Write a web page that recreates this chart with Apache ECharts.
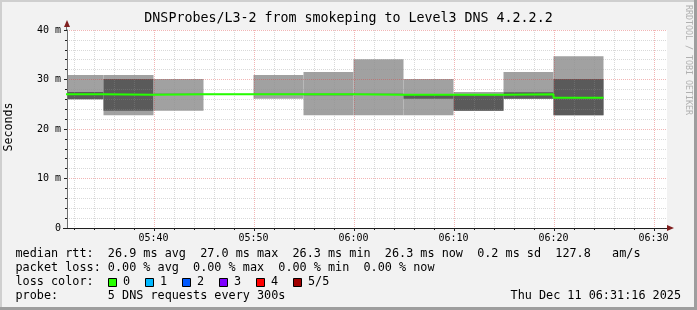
<!DOCTYPE html>
<html>
<head>
<meta charset="utf-8">
<style>
  html, body { margin: 0; padding: 0; background: #f2f2f2; }
  #chart { width: 697px; height: 310px; }
</style>
<script src="https://cdn.jsdelivr.net/npm/echarts@6/dist/echarts.min.js"></script>
</head>
<body>
<div id="chart"></div>
<script>
// ---- Data (time in minutes after 05:00; values in milliseconds) ----
const viewStart = 31.35;   // 05:31:21
const viewEnd = 91.35;     // 06:31:21
const slotEnds = [35, 40, 45, 50, 55, 60, 65, 70, 75, 80, 85];   // each slot covers 5 minutes ending here
const slotLen = 5;
const pingMin  = [26.0, 22.8, 23.7, 26.9, 26.1, 22.8, 22.8, 22.8, 23.7, 26.1, 22.8];
const pingLoQ  = [26.0, 23.7, 26.9, 27.0, 26.9, 26.8, 26.9, 26.1, 23.7, 26.1, 22.8];
const pingHiQ  = [27.5, 30.1, 27.1, 27.0, 27.1, 27.1, 27.1, 26.9, 27.0, 27.4, 30.1];
const pingMax  = [30.9, 30.9, 30.1, 27.1, 30.9, 31.5, 34.1, 30.1, 27.5, 31.5, 34.7];
const medianRtt = [27.0, 26.9, 27.0, 27.0, 27.0, 27.0, 26.9, 26.9, 26.9, 27.0, 26.3];

const xTickValues = [40, 50, 60, 70, 80, 90];
const xTickLabels = ['05:40', '05:50', '06:00', '06:10', '06:20', '06:30'];
const xGridMinutes = [32, 34, 36, 38, 40, 42, 44, 46, 48, 50, 52, 54, 56, 58, 60, 62, 64, 66, 68, 70,
                      72, 74, 76, 78, 80, 82, 84, 86, 88, 90];
const yTickLabels = ['0', '10 m', '20 m', '30 m', '40 m'];

const titleText = 'DNSProbes/L3-2 from smokeping to Level3 DNS 4.2.2.2';
const legendLines = [
  'median rtt:  26.9 ms avg  27.0 ms max  26.3 ms min  26.3 ms now  0.2 ms sd  127.8   am/s',
  'packet loss: 0.00 % avg  0.00 % max  0.00 % min  0.00 % now',
  'loss color:',
  'probe:       5 DNS requests every 300s'
];
const lossLabels = ['0', '1', '2', '3', '4', '5/5'];
const lossColors = ['#26ff00', '#00b8ff', '#0059ff', '#7e00ff', '#ff0000', '#a10000'];
const dateText = 'Thu Dec 11 06:31:16 2025';
const watermark = 'RRDTOOL / TOBI OETIKER';

// ---- Build chart ----
const FONT = '"DejaVu Sans Mono", monospace';
const MAJOR_GRID = 'rgba(222,60,60,0.38)';
const MINOR_GRID = 'rgba(143,143,143,0.34)';
const smokeData = slotEnds.map((e, i) => [e - slotLen, e, pingMin[i], pingLoQ[i], pingHiQ[i], pingMax[i]]);
const medianData = [[slotEnds[0] - slotLen, medianRtt[0]]].concat(slotEnds.map((e, i) => [e, medianRtt[i]]));

const chart = echarts.init(document.getElementById('chart'), null, { renderer: 'canvas' });

const graphics = [];
// frame shading
graphics.push({ type: 'rect', shape: { x: 0, y: 0, width: 697, height: 2 }, style: { fill: '#cfcfcf' }, z: 100 });
graphics.push({ type: 'rect', shape: { x: 0, y: 0, width: 2, height: 310 }, style: { fill: '#cfcfcf' }, z: 100 });
graphics.push({ type: 'rect', shape: { x: 0, y: 307, width: 697, height: 3 }, style: { fill: '#9e9e9e' }, z: 100 });
graphics.push({ type: 'rect', shape: { x: 694, y: 0, width: 3, height: 310 }, style: { fill: '#9e9e9e' }, z: 100 });
// axis arrows
graphics.push({ type: 'polygon', shape: { points: [[64, 27], [70, 27], [67, 20]] }, style: { fill: '#801f1f' }, z: 100 });
graphics.push({ type: 'polygon', shape: { points: [[667, 225], [667, 231], [674, 228]] }, style: { fill: '#801f1f' }, z: 100 });
graphics.push({ type: 'line', shape: { x1: 66.5, y1: 27, x2: 66.5, y2: 30 }, style: { stroke: '#707070', lineWidth: 1 }, z: 100 });
graphics.push({ type: 'line', shape: { x1: 63, y1: 228.5, x2: 67, y2: 228.5 }, style: { stroke: '#1f1f1f', lineWidth: 1 }, z: 100 });
// title
graphics.push({ type: 'text', x: 348.5, y: 19, style: { text: titleText, font: '13.3px ' + FONT, fill: '#000', textAlign: 'center', textVerticalAlign: 'middle' }, z: 100 });
// y axis name
graphics.push({ type: 'text', x: 9, y: 127, rotation: Math.PI / 2, style: { text: 'Seconds', font: '11.6px ' + FONT, fill: '#000', textAlign: 'center', textVerticalAlign: 'middle' }, z: 100 });
// watermark
graphics.push({ type: 'text', x: 688, y: 60, rotation: -Math.PI / 2, style: { text: watermark, font: '8.3px ' + FONT, fill: '#b0b0b0', textAlign: 'center', textVerticalAlign: 'middle' }, z: 100 });
// legend lines
const legendY = [254.3, 268.3, 282.3, 296.2];
legendLines.forEach((t, i) => {
  graphics.push({ type: 'text', x: 15.5, y: legendY[i], style: { text: t, font: '11.8px ' + FONT, fill: '#000', textAlign: 'left', textVerticalAlign: 'middle' }, z: 100 });
});
lossLabels.forEach((t, i) => {
  const bx = 108.5 + 37 * i;
  graphics.push({ type: 'rect', shape: { x: bx, y: 278.5, width: 8, height: 8 }, style: { fill: lossColors[i], stroke: '#000', lineWidth: 1 }, z: 100 });
  graphics.push({ type: 'text', x: bx + 14.5, y: 282.3, style: { text: t, font: '11.8px ' + FONT, fill: '#000', textAlign: 'left', textVerticalAlign: 'middle' }, z: 100 });
});
graphics.push({ type: 'text', x: 681, y: 296.2, style: { text: dateText, font: '11.8px ' + FONT, fill: '#000', textAlign: 'right', textVerticalAlign: 'middle' }, z: 100 });

const option = {
  backgroundColor: '#f2f2f2',
  animation: false,
  grid: { left: 67, top: 30, width: 600, height: 198, show: true, backgroundColor: '#ffffff', borderWidth: 0 },
  xAxis: {
    type: 'value', min: viewStart, max: viewEnd, z: 6,
    axisLine: { show: true, lineStyle: { color: '#1f1f1f', width: 1 } },
    axisTick: { show: false },
    splitLine: { show: false },
    axisLabel: {
      customValues: xTickValues,
      margin: 5,
      fontFamily: 'DejaVu Sans Mono', fontSize: 10, color: '#000',
      formatter: (v) => { const i = xTickValues.indexOf(Math.round(v)); return i >= 0 ? xTickLabels[i] : ''; }
    }
  },
  yAxis: {
    type: 'value', min: 0, max: 40, interval: 10, z: 3,
    axisLine: { show: true, lineStyle: { color: '#707070', width: 1 } },
    axisTick: { show: true, length: 3, lineStyle: { color: '#1f1f1f' } },
    minorTick: { show: true, splitNumber: 5, length: 2, lineStyle: { color: '#1f1f1f' } },
    axisLabel: {
      margin: 6, fontFamily: 'DejaVu Sans Mono', fontSize: 10, color: '#000',
      formatter: (v) => yTickLabels[Math.round(v / 10)]
    },
    splitLine: { show: true, lineStyle: { color: MAJOR_GRID, width: 1, type: [1, 1] } },
    minorSplitLine: { show: true, lineStyle: { color: MINOR_GRID, width: 1, type: [1, 1] } }
  },
  series: [
    {
      name: 'smoke', type: 'custom', z: 2,
      data: smokeData,
      renderItem: (params, api) => {
        const cs = params.coordSys;
        const x0 = Math.max(api.coord([api.value(0), 0])[0], cs.x);
        const x1 = Math.min(api.coord([api.value(1), 0])[0], cs.x + cs.width);
        const yMin = api.coord([0, api.value(2)])[1];
        const yLo = api.coord([0, api.value(3)])[1];
        const yHi = api.coord([0, api.value(4)])[1];
        const yMax = api.coord([0, api.value(5)])[1];
        return {
          type: 'group',
          children: [
            { type: 'rect', shape: { x: x0, y: yMax, width: x1 - x0, height: yMin - yMax }, style: { fill: '#a1a1a1' } },
            { type: 'rect', shape: { x: x0, y: yHi, width: x1 - x0, height: Math.max(yLo - yHi, 0) }, style: { fill: '#5a5a5a' } }
          ]
        };
      }
    },
    {
      name: 'vgrid', type: 'custom', z: 3, silent: true,
      data: xGridMinutes.map(v => [v, 0]),
      renderItem: (params, api) => {
        const v = api.value(0);
        const major = xTickValues.indexOf(v) >= 0;
        const top = api.coord([v, 40]);
        const bot = api.coord([v, 0]);
        const x = Math.round(top[0]) + 0.5;
        return {
          type: 'group',
          children: [
            { type: 'line', shape: { x1: x, y1: Math.round(top[1]), x2: x, y2: Math.round(bot[1]) },
              style: { stroke: major ? MAJOR_GRID : MINOR_GRID, lineWidth: 1, lineDash: [1, 1], fill: null } },
            { type: 'line', shape: { x1: x, y1: bot[1], x2: x, y2: bot[1] + (major ? 3 : 2) },
              style: { stroke: '#1f1f1f', lineWidth: 1 } }
          ]
        };
      }
    },
    {
      name: 'median rtt', type: 'line', z: 5,
      data: medianData,
      step: 'start',
      symbol: 'none',
      lineStyle: { color: '#26ff00', width: 2 },
      clip: true
    }
  ],
  graphic: graphics
};
chart.setOption(option);
</script>
</body>
</html>
